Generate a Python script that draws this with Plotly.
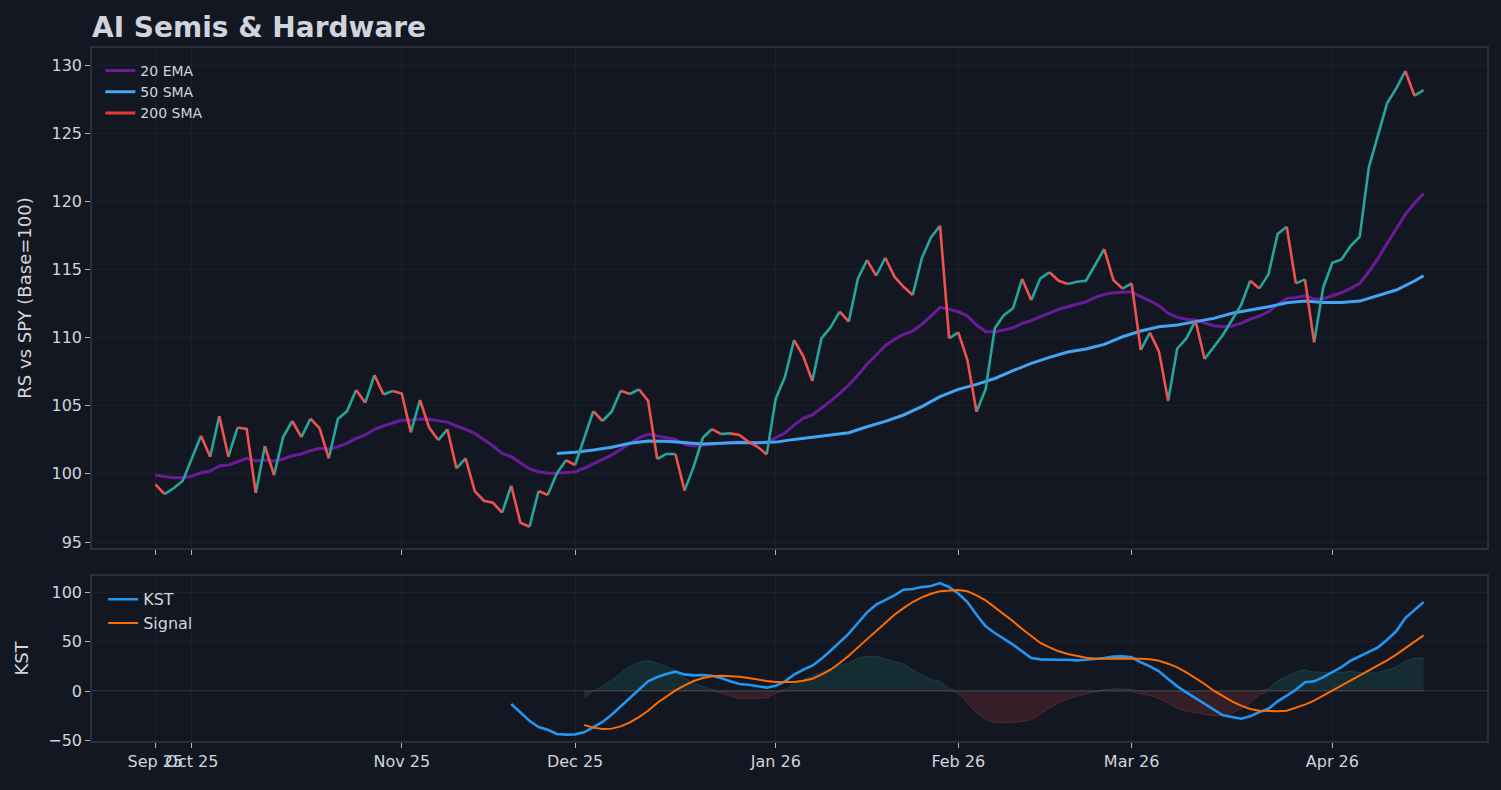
import plotly.graph_objects as go
from plotly.subplots import make_subplots

# trading-day index 0..139 (Sep 25 2025 -> mid Apr 2026)
month_start_idx = [0, 4, 27, 46, 68, 88, 107, 129]
month_labels = ["Sep 25", "Oct 25", "Nov 25", "Dec 25", "Jan 26", "Feb 26", "Mar 26", "Apr 26"]

# relative strength vs SPY, base 100
rs = [99.23, 98.52, 98.94, 99.5, 101.2, 102.8, 101.26, 104.24, 101.26, 103.4,
      103.3, 98.6, 102.04, 99.9, 102.7, 103.88, 102.7, 104.05, 103.34, 101.14,
      104.02, 104.6, 106.15, 105.22, 107.25, 105.83, 106.08, 105.9, 103.05, 105.42,
      103.4, 102.48, 103.27, 100.4, 101.14, 98.74, 98.03, 97.88, 97.15, 99.13,
      96.42, 96.12, 98.74, 98.45, 100.04, 101.0, 100.65, 102.6, 104.6, 103.88,
      104.56, 106.1, 105.86, 106.2, 105.37, 101.09, 101.46, 101.46, 98.77, 100.53,
      102.65, 103.29, 102.92, 102.97, 102.85, 102.36, 101.99, 101.43, 105.54, 107.1,
      109.82, 108.65, 106.81, 109.94, 110.75, 111.9, 111.17, 114.35, 115.69, 114.54,
      115.86, 114.47, 113.73, 113.12, 115.81, 117.35, 118.21, 109.94, 110.38, 108.35,
      104.56, 106.22, 110.68, 111.65, 112.15, 114.3, 112.75, 114.35, 114.79, 114.17,
      113.93, 114.1, 114.17, 115.32, 116.5, 114.22, 113.6, 113.98, 109.09, 110.36,
      108.97, 105.37, 109.2, 109.94, 111.24, 108.43, 109.33, 110.19, 111.29, 112.39,
      114.17, 113.61, 114.64, 117.6, 118.13, 113.98, 114.27, 109.65, 113.68, 115.49,
      115.74, 116.72, 117.4, 122.49, 124.86, 127.19, 128.29, 129.56, 127.75, 128.16]

ema20 = [99.89, 99.79, 99.72, 99.72, 99.84, 100.08, 100.21, 100.58, 100.65, 100.89,
         101.14, 100.94, 101.01, 100.94, 101.09, 101.33, 101.46, 101.7, 101.87, 101.82,
         101.99, 102.24, 102.6, 102.85, 103.27, 103.51, 103.75, 103.95, 103.93, 104.02,
         104.0, 103.88, 103.8, 103.51, 103.27, 102.97, 102.53, 102.04, 101.5, 101.26,
         100.82, 100.36, 100.16, 100.04, 100.04, 100.08, 100.16, 100.41, 100.77, 101.07,
         101.38, 101.8, 102.24, 102.65, 102.9, 102.78, 102.65, 102.53, 102.17, 102.04,
         102.09, 102.17, 102.24, 102.31, 102.34, 102.31, 102.29, 102.31, 102.64, 103.0,
         103.58, 104.07, 104.32, 104.81, 105.34, 105.9, 106.52, 107.25, 108.04, 108.72,
         109.41, 109.87, 110.24, 110.48, 110.97, 111.58, 112.22, 112.07, 111.9, 111.58,
         110.92, 110.43, 110.43, 110.55, 110.72, 111.04, 111.24, 111.53, 111.82, 112.07,
         112.26, 112.44, 112.63, 112.95, 113.17, 113.29, 113.32, 113.36, 113.0, 112.7,
         112.34, 111.78, 111.48, 111.34, 111.29, 111.09, 110.87, 110.8, 110.85, 111.04,
         111.36, 111.58, 111.9, 112.44, 112.88, 112.95, 113.07, 112.83, 112.83, 113.07,
         113.29, 113.61, 113.98, 114.83, 115.81, 116.91, 118.01, 119.04, 119.85, 120.58]

sma50_idx = [44, 46, 48, 50, 52, 54, 56, 58, 60, 62, 64, 66, 68, 70, 72, 74, 76, 78,
             80, 82, 84, 86, 88, 90, 92, 94, 96, 98, 100, 102, 104, 106, 108, 110,
             112, 114, 116, 118, 120, 122, 124, 126, 128, 130, 132, 134, 136, 138, 139]
sma50 = [101.5, 101.58, 101.75, 101.95, 102.24, 102.41, 102.39, 102.29, 102.19, 102.24,
         102.31, 102.29, 102.33, 102.53, 102.68, 102.83, 103.02, 103.46, 103.85, 104.32,
         104.93, 105.66, 106.2, 106.57, 107.0, 107.57, 108.11, 108.55, 108.94, 109.16,
         109.5, 110.06, 110.48, 110.8, 110.92, 111.17, 111.41, 111.78, 112.02, 112.26,
         112.56, 112.68, 112.58, 112.58, 112.68, 113.07, 113.49, 114.15, 114.54]

sma200 = [None]  # not enough history yet, legend entry only

kst_start = 39
kst = [-13.1, -21.5, -30, -36.4, -39.1, -43.4, -44.1, -43.8, -41.7, -36.4,
       -31.3, -23.9, -15.5, -6.1, 2, 9.8, 14.1, 17.2, 19.5, 16.8,
       15.8, 16.2, 15.5, 13.1, 9.8, 7.1, 6.4, 5.1, 3.4, 5.4,
       9.8, 16.5, 21.5, 25.6, 32.6, 40.7, 49.2, 57.9, 68.7, 79.5,
       87.2, 91.6, 96.6, 102.3, 103, 105, 106, 109.1, 105, 98.5,
       89.9, 77.1, 65.3, 58.6, 52.8, 46.8, 40.1, 33.3, 32, 31.6,
       31.6, 31.6, 31, 31.6, 32.3, 33.3, 34.7, 35, 34, 29,
       24.9, 19.9, 12.1, 4.7, -1.3, -7.1, -13.8, -19.5, -24.6, -26.3,
       -28, -25.6, -21.2, -17.9, -10.4, -4.7, 1.3, 8.8, 9.8, 14.1,
       19.2, 24.2, 30.6, 35, 39.4, 44.1, 51.8, 60.3, 73.7, 82.1, 89.9]

signal_start = 47
signal = [-34.3, -37, -38.4, -38, -35.7, -31.6, -26.3, -19.9, -12.1, -5.4,
          0.7, 5.8, 10.1, 13.1, 14.8, 15.5, 15.2, 14.4, 13.1, 11.4,
          10.1, 9.1, 8.8, 9.1, 10.4, 12.4, 16.5, 21.5, 28.3, 35.7,
          44.1, 52.5, 60.9, 69.4, 77.1, 83.8, 89.9, 94.6, 98.3, 100.7,
          101.7, 102, 100.7, 96.6, 91.6, 84.8, 78.1, 70.4, 62.6, 55.2,
          48.5, 44.1, 40.1, 37.4, 35.4, 33.7, 32.6, 32.6, 33, 33.3,
          33, 32.6, 32, 30.6, 27.6, 23.9, 18.9, 13.1, 7.1, 0.3,
          -5.4, -10.4, -14.8, -18.2, -19.9, -20.5, -20.5, -19.9, -17.2, -13.8,
          -9.8, -4.7, -0.3, 4.7, 10.4, 15.5, 20.5, 25.6, 31, 36.7,
          43.4, 50.2, 56.2]

hist = [-6.4, 0, 4.7, 10.8, 18.2, 24.9, 29.3, 30.6, 28.3, 24.9,
        20.5, 13.1, 8.1, 4.7, 1.3, -2, -5.4, -7.7, -7.7, -7.7,
        -7.1, -2, 1.3, 7.1, 11.4, 15.8, 18.9, 22.5, 26, 28.3,
        33.3, 35, 35, 32.3, 30, 27.3, 21.5, 16.5, 11.4, 9.8,
        2.3, -2, -12.1, -22.2, -29, -31.6, -32, -32, -30.6, -29,
        -23.2, -17.2, -12.1, -7.7, -5.4, -2.7, -1, 1.3, 2.3, 2.3,
        1, -3, -4.4, -7.7, -12.1, -17.2, -20.5, -22.2, -23.9, -24.9,
        -24.9, -22.2, -17.9, -12.1, -3.7, 2.3, 10.4, 14.8, 19.2, 21.5,
        19.2, 18.9, 18.6, 18.9, 19.9, 18.6, 18.2, 18.9, 21.5, 24.2,
        30.6, 33, 33.3]

BG = "#131722"
TXT = "#d1d4dc"
SPINE = "#2a2e39"
GRID = "#1c202b"
UP = "#26a69a"
DOWN = "#ef5350"
FONT = "DejaVu Sans"


def direction_runs(vals):
    # split the series into runs of rising / falling segments
    up_x, up_y, dn_x, dn_y = [], [], [], []
    i, n = 0, len(vals)
    while i < n - 1:
        up = vals[i + 1] >= vals[i]
        j = i + 1
        while j < n - 1 and (vals[j + 1] >= vals[j]) == up:
            j += 1
        xs = list(range(i, j + 1)) + [None]
        ys = vals[i:j + 1] + [None]
        if up:
            up_x += xs
            up_y += ys
        else:
            dn_x += xs
            dn_y += ys
        i = j
    return up_x, up_y, dn_x, dn_y


fig = make_subplots(rows=2, cols=1, shared_xaxes=True)

days = list(range(len(rs)))

fig.add_trace(go.Scatter(x=days, y=ema20, mode="lines", name="20 EMA",
                         line=dict(color="#6a1b9a", width=3)), row=1, col=1)
fig.add_trace(go.Scatter(x=sma50_idx, y=sma50, mode="lines", name="50 SMA",
                         line=dict(color="#42a5f5", width=3)), row=1, col=1)
fig.add_trace(go.Scatter(x=list(range(len(sma200))), y=sma200, mode="lines", name="200 SMA",
                         line=dict(color="#e53935", width=3)), row=1, col=1)

ux, uy, dx, dy = direction_runs(rs)
fig.add_trace(go.Scatter(x=ux, y=uy, mode="lines", showlegend=False,
                         line=dict(color=UP, width=2.6)), row=1, col=1)
fig.add_trace(go.Scatter(x=dx, y=dy, mode="lines", showlegend=False,
                         line=dict(color=DOWN, width=2.6)), row=1, col=1)

# KST panel
hist_x = list(range(signal_start, signal_start + len(hist)))
hist_pos = [max(h, 0) for h in hist]
hist_neg = [min(h, 0) for h in hist]
fig.add_trace(go.Scatter(x=hist_x, y=hist_pos, mode="lines", fill="tozeroy", showlegend=False,
                         fillcolor="rgba(38,166,154,0.15)",
                         line=dict(color="rgba(38,166,154,0.22)", width=1)), row=2, col=1)
fig.add_trace(go.Scatter(x=hist_x, y=hist_neg, mode="lines", fill="tozeroy", showlegend=False,
                         fillcolor="rgba(239,83,80,0.15)",
                         line=dict(color="rgba(239,83,80,0.22)", width=1)), row=2, col=1)

fig.add_hline(y=0, line=dict(color=SPINE, width=2), layer="below", row=2, col=1)

fig.add_trace(go.Scatter(x=list(range(kst_start, kst_start + len(kst))), y=kst, mode="lines",
                         name="KST", legend="legend2",
                         line=dict(color="#2196f3", width=2.6)), row=2, col=1)
fig.add_trace(go.Scatter(x=list(range(signal_start, signal_start + len(signal))), y=signal,
                         mode="lines", name="Signal", legend="legend2",
                         line=dict(color="#ff6d00", width=2)), row=2, col=1)

axis_common = dict(
    showline=True, mirror=True, linecolor=SPINE, linewidth=1.5,
    showgrid=True, gridcolor=GRID, gridwidth=1, zeroline=False,
    ticks="outside", ticklen=5, tickcolor="#b2b5be", tickwidth=1,
    tickfont=dict(family=FONT, size=16, color=TXT),
)

fig.update_xaxes(**axis_common, range=[-6.95, 145.95], tickangle=0,
                 tickmode="array", tickvals=month_start_idx, ticktext=month_labels)
fig.update_xaxes(showticklabels=False, row=1, col=1)

fig.update_yaxes(**axis_common)
fig.update_yaxes(range=[94.56, 131.25], tickvals=[95, 100, 105, 110, 115, 120, 125, 130],
                 title=dict(text="RS vs SPY (Base=100)", font=dict(family=FONT, size=18, color=TXT)),
                 row=1, col=1)
fig.update_yaxes(range=[-50.5, 116.2], tickvals=[-50, 0, 50, 100],
                 title=dict(text="KST", font=dict(family=FONT, size=18, color=TXT)),
                 row=2, col=1)

fig.update_layout(
    width=1501, height=790,
    paper_bgcolor=BG, plot_bgcolor=BG,
    margin=dict(l=92, r=14, t=48, b=49),
    font=dict(family=FONT, color=TXT),
    title=dict(text="AI Semis & Hardware", x=92 / 1501, xanchor="left", xref="container",
               y=1 - 27 / 790, yanchor="middle",
               font=dict(family=FONT, size=28, color=TXT, weight="bold")),
    yaxis=dict(domain=[0.2785, 1.0]),
    yaxis2=dict(domain=[0.0, 0.2381]),
    legend=dict(x=0.006, y=0.99, xanchor="left", yanchor="top", bgcolor="rgba(0,0,0,0)",
                font=dict(family=FONT, size=14, color=TXT), itemwidth=30, tracegroupgap=0),
    legend2=dict(x=0.008, y=0.229, xanchor="left", yanchor="top", bgcolor="rgba(0,0,0,0)",
                 font=dict(family=FONT, size=16, color=TXT), itemwidth=30),
    showlegend=True,
)

fig.write_html("out.html", config={"displayModeBar": False},
               post_script="document.body.style.margin='0';document.body.style.background='#131722';")
